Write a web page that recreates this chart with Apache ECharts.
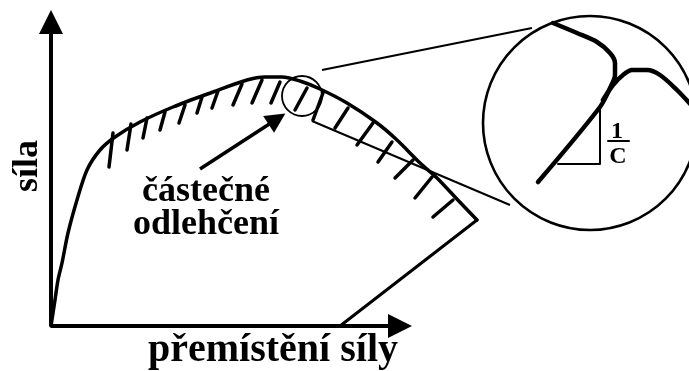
<!DOCTYPE html>
<html>
<head>
<meta charset="utf-8">
<script src="https://cdn.jsdelivr.net/npm/echarts@6/dist/echarts.min.js"></script>
<style>
html,body{margin:0;padding:0;background:#fff;}
#chart{width:689px;height:371px;}
</style>
</head>
<body>
<div id="chart"></div>
<script>
// Diagram units: origin at the axis corner, x = displacement, y = force
const axisX = [[0, 0], [349, 0]];
const axisY = [[0, 0], [0, 304]];
const loadCurve = [[0,0],[4,26],[7,46],[11,63],[17,93],[26,126],[36,156],[49,176],[64,189],[89,204],
  [122,219],[162,234],[196,246],[214,249],[231,249],[249,245],[269,237],[296,223],[326,203],[346,186],
  [369,163],[386,148],[404,129],[426,106]];
const unloadLine = [[426,106],[289,0]];
const hatches = [
  [[62,193],[58,159]],[[80,202],[76,176]],[[96,208],[92,188]],[[114,214],[109,196]],
  [[134,221],[128,203]],[[151,229],[146,213]],[[167,235],[161,218]],[[191,242],[182,221]],
  [[211,246],[201,223]],[[229,244],[220,223]],
  [[256,238],[244,216]],[[272,233],[262,206]],[[297,218],[284,198]],[[322,203],[306,181]],
  [[341,184],[327,164]],[[362,166],[344,148]],[[381,149],[364,128]],[[402,126],[382,109]]
];
const connectors = [[[271,256],[481,298]], [[261,205],[459,121]]];
const pointerArrow = [[149,157],[226,207]];
const smallCircle = [251, 230];
const bigCircle = [539, 203];
const insetA = [[502,303],[526,293],[546,284],[559,273],[564,263],[564,251],[560,240],[549,219],[487,144]];
const insetB = [[552,226],[562,241],[572,251],[581,256],[596,256],[609,251],[626,236],[641,220]];
const slopeTriangle = [[507,162],[549,162],[549,219]];
const labelTexts = [
  {name: 'částečné\nodlehčení', value: [155, 118]},
];
const yTitle = {name: 'síla', value: [-23, 160]};
const xTitle = {name: 'přemístění síly', value: [222, -25]};
const slopeText = [{name: '1', value: [566, 194]}, {name: 'C', value: [567, 169]}];
const fracBar = [[557,185],[578,185]];

const BLACK = '#000';
const FONT = '"Liberation Serif", "Times New Roman", serif';

const chart = echarts.init(document.getElementById('chart'), null, {renderer: 'canvas'});
const lineS = (data, width, smooth) => ({
  type: 'line', data, showSymbol: false, symbol: 'none', smooth: smooth || false,
  lineStyle: {color: BLACK, width, cap: 'round', join: 'round', opacity: 1}, silent: true, z: 3
});
const textS = (data, fontSize, extra) => ({
  type: 'scatter', silent: true, symbolSize: 0, data,
  itemStyle: {opacity: 1},
  label: Object.assign({show: true, position: 'inside', formatter: p => p.name, color: BLACK,
    opacity: 1, fontFamily: FONT, fontWeight: 'bold', fontSize}, extra || {}),
  z: 5
});
chart.setOption({
  animation: false,
  backgroundColor: '#fff',
  grid: {left: 0, right: 0, top: 0, bottom: 0},
  xAxis: {type: 'value', min: -51, max: 638, show: false},
  yAxis: {type: 'value', min: -45, max: 326, show: false},
  series: [
    {
      type: 'lines', coordinateSystem: 'cartesian2d', silent: true,
      data: [{coords: axisX}, {coords: axisY}],
      symbol: ['none', 'triangle'], symbolSize: 24,
      lineStyle: {color: BLACK, width: 4, opacity: 1}
    },
    lineS(loadCurve, 3.5, 0.3),
    lineS(unloadLine, 3),
    {
      type: 'lines', coordinateSystem: 'cartesian2d', silent: true,
      data: hatches.map(h => ({coords: h})),
      lineStyle: {color: BLACK, width: 3.5, opacity: 1, cap: 'round'}
    },
    {
      type: 'lines', coordinateSystem: 'cartesian2d', silent: true,
      data: connectors.map(h => ({coords: h})),
      lineStyle: {color: BLACK, width: 2, opacity: 1}
    },
    {
      type: 'lines', coordinateSystem: 'cartesian2d', silent: true,
      data: [{coords: pointerArrow}],
      symbol: ['none', 'triangle'], symbolSize: 20,
      lineStyle: {color: BLACK, width: 3.5, opacity: 1}
    },
    {
      type: 'scatter', silent: true,
      data: [{value: smallCircle, symbolSize: 40, itemStyle: {borderWidth: 1.8}},
             {value: bigCircle, symbolSize: 214, itemStyle: {borderWidth: 2.6}}],
      symbol: 'circle',
      itemStyle: {color: 'rgba(0,0,0,0)', borderColor: BLACK, opacity: 1}, z: 4
    },
    lineS(insetA, 4.5, 0.3),
    lineS(insetB, 4.5, 0.3),
    lineS(slopeTriangle, 2),
    lineS(fracBar, 2),
    textS(labelTexts, 36, {lineHeight: 33, align: 'center'}),
    textS([yTitle], 36, {rotate: 90}),
    textS([xTitle], 40),
    textS(slopeText, 24, {fontWeight: 'bold'})
  ]
});
</script>
</body>
</html>
